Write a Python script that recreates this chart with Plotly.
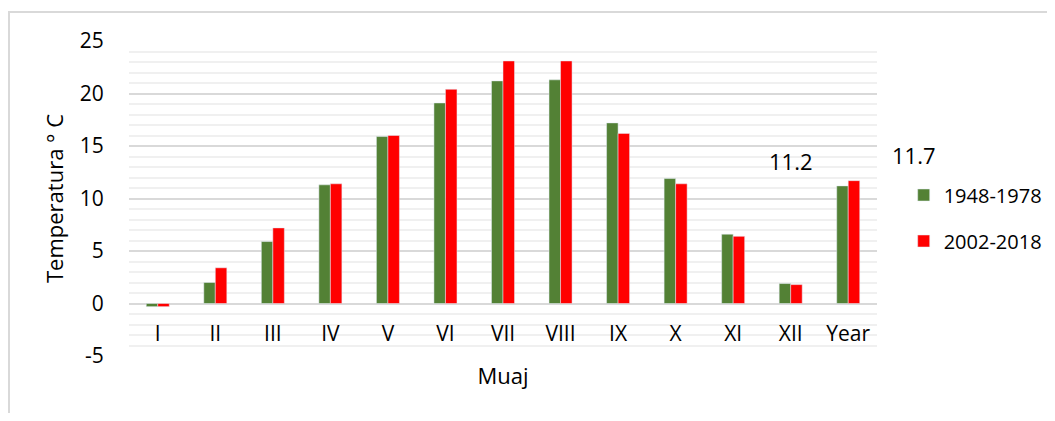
import plotly.graph_objects as go

months = ['I', 'II', 'III', 'IV', 'V', 'VI', 'VII', 'VIII', 'IX', 'X', 'XI', 'XII', 'Year']
temp_1948_1978 = [-0.3, 2.0, 5.9, 11.3, 15.9, 19.1, 21.2, 21.3, 17.2, 11.9, 6.6, 1.9, 11.2]
temp_2002_2018 = [-0.3, 3.4, 7.2, 11.4, 16.0, 20.4, 23.1, 23.1, 16.2, 11.4, 6.4, 1.8, 11.7]
y_ticks = [-5, 0, 5, 10, 15, 20, 25]
y_ticktext = ['-5', '0', '5', '10', '15', '20', '25']

FONT = 'Open Sans'
OFF = 8  # page body margin
W, H = 1055 - 2 * OFF, 421 - 2 * OFF
L, R, T, B = 121, 170, 33, 57
plot_w = W - L - R
plot_h = H - T - B


def px_x(x):
    return (x - OFF - L) / plot_w


def px_y(y):
    return (H - B - (y - OFF)) / plot_h


fig = go.Figure()
fig.add_trace(go.Bar(x=months, y=temp_1948_1978, name='1948-1978',
                     marker_color='#538135', legendgroup='a'))
fig.add_trace(go.Bar(x=months, y=temp_2002_2018, name='2002-2018',
                     marker_color='#FF0000', legendgroup='b'))

# displaced data labels for the annual values
fig.add_annotation(x=px_x(791), y=px_y(161), xref='paper', yref='paper',
                   xanchor='center', yanchor='middle',
                   text=f'{temp_1948_1978[-1]}', showarrow=False,
                   font=dict(family=FONT, size=22, color='#000000'))
fig.add_annotation(x=px_x(914), y=px_y(155), xref='paper', yref='paper',
                   xanchor='center', yanchor='middle',
                   text=f'{temp_2002_2018[-1]}', showarrow=False,
                   font=dict(family=FONT, size=22, color='#000000'))

# outer chart border (top and left edges visible)
fig.add_shape(type='line', xref='paper', yref='paper', x0=px_x(8), x1=1.5, y0=px_y(12), y1=px_y(12),
              line=dict(color='#d9d9d9', width=2))
fig.add_shape(type='line', xref='paper', yref='paper', x0=px_x(9), x1=px_x(9), y0=-0.5, y1=px_y(12),
              line=dict(color='#d9d9d9', width=2))

fig.update_layout(
    width=W, height=H,
    margin=dict(l=L, r=R, t=T, b=B, autoexpand=False),
    paper_bgcolor='white', plot_bgcolor='white',
    font=dict(family=FONT, size=21, color='#000000'),
    barmode='group', bargap=0.6, bargroupgap=0,
    legend=dict(xref='container', yref='container',
                x=(904 - OFF + 8) / W - 0.008, y=1 - (218 - OFF) / H,
                xanchor='left', yanchor='middle',
                traceorder='grouped', tracegroupgap=17,
                font=dict(family=FONT, size=20)),
    showlegend=True,
)
fig.update_xaxes(
    anchor='free', position=5 / 30,
    showline=False, ticks='', showgrid=False,
    ticklabelstandoff=15,
    title=dict(text='Muaj', standoff=23, font=dict(size=22)),
)
fig.update_yaxes(
    range=[-5, 25], tickvals=y_ticks, ticktext=y_ticktext,
    showgrid=True, gridcolor='#d9d9d9', gridwidth=1.5,
    zeroline=True, zerolinecolor='#d9d9d9', zerolinewidth=1.5,
    minor=dict(dtick=1, showgrid=True, gridcolor='#f0f0f0', gridwidth=1.5),
    ticks='outside', tickcolor='rgba(0,0,0,0)', ticklen=20,
    showline=False,
    title=dict(text='Temperatura ° C', standoff=10, font=dict(size=22)),
)

fig.write_html('out.html')
